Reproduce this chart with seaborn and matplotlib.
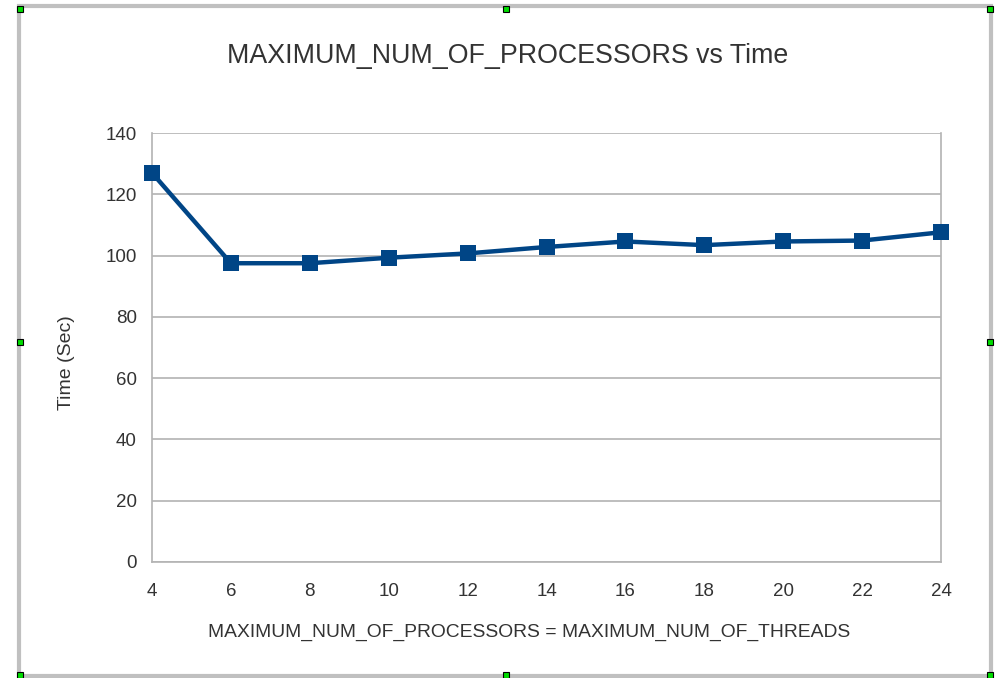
import matplotlib
matplotlib.use("Agg")
import matplotlib.pyplot as plt
import seaborn as sns
import pandas as pd
from matplotlib.patches import Rectangle

# values
processors = [4, 6, 8, 10, 12, 14, 16, 18, 20, 22, 24]
time_sec = [127.0, 97.5, 97.5, 99.3, 100.7, 102.8, 104.6, 103.4, 104.6, 104.9, 107.6]
y_ticks = [0, 20, 40, 60, 80, 100, 120, 140]

df = pd.DataFrame({"procs": processors, "time": time_sec})

sns.set_style("white")
plt.rcParams["font.family"] = ["Liberation Sans", "DejaVu Sans"]

W, H = 996, 678
fig = plt.figure(figsize=(W / 100, H / 100), dpi=100)
ax = fig.add_axes([152 / W, 1 - 562 / H, (941 - 152) / W, (562 - 133) / H])

grid_col = "#b3b3b3"
text_col = "#333333"

sns.lineplot(data=df, x="procs", y="time", ax=ax, color="#004586",
             marker="s", markersize=11.5, linewidth=3.2, markeredgewidth=0,
             clip_on=False, zorder=5)

ax.set_xlim(4, 24)
ax.set_ylim(0, 140)
ax.set_xticks(processors)
ax.set_yticks(y_ticks)
ax.yaxis.grid(True, color=grid_col, linewidth=1.2)
ax.set_axisbelow(True)
for s in ax.spines.values():
    s.set_color(grid_col)
    s.set_linewidth(1.2)
ax.spines["top"].set_visible(False)
ax.tick_params(axis="both", which="major", direction="out", length=8, width=1.2,
               color=grid_col, labelcolor=text_col, labelsize=13.5)
ax.tick_params(axis="x", pad=7)
ax.tick_params(axis="y", pad=3)
ax.set_xlabel("")
ax.set_ylabel("")

fig.text(508 / W, 1 - 56 / H, "MAXIMUM_NUM_OF_PROCESSORS vs Time",
         fontsize=19.3, color=text_col, ha="center", va="center")
fig.text(529 / W, 1 - 632 / H, "MAXIMUM_NUM_OF_PROCESSORS = MAXIMUM_NUM_OF_THREADS",
         fontsize=13.9, color=text_col, ha="center", va="center")
fig.text(66 / W, 1 - 363 / H, "Time (Sec)", fontsize=14, color=text_col,
         rotation=90, ha="center", va="center")

# outer chart frame
fig.patches.append(Rectangle((19 / W, 2 / H), 972 / W, 670 / H,
                             transform=fig.transFigure, fill=False,
                             edgecolor="#c0c0c0", linewidth=3))
# selection handles
for hx, hy in [(20, 9), (506, 9), (990, 9), (20, 342), (990, 342),
               (20, 675), (506, 675), (990, 675)]:
    fig.patches.append(Rectangle(((hx - 3) / W, 1 - (hy + 3) / H), 6 / W, 6 / H,
                                 transform=fig.transFigure, facecolor="#00dd00",
                                 edgecolor="black", linewidth=0.8))

fig.savefig("out.png", dpi=100)
